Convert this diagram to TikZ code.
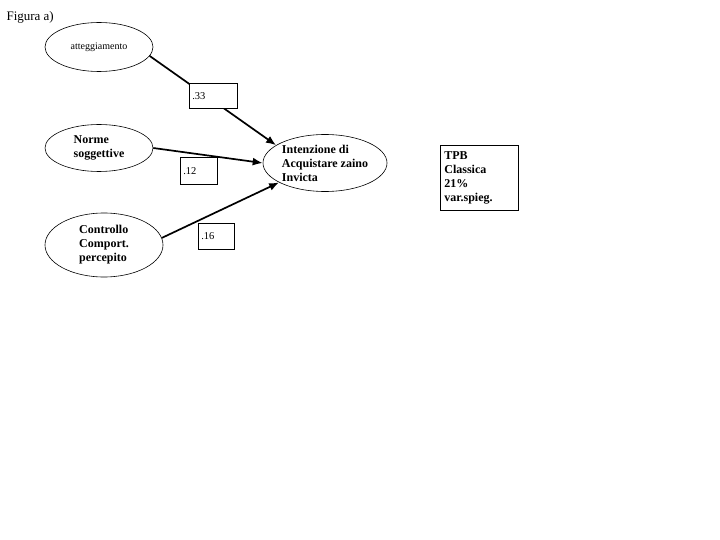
\documentclass[tikz,border=0pt]{standalone}
\usepackage{fontspec}
\setmainfont{Liberation Serif}
\usetikzlibrary{shapes.geometric, arrows.meta}
\tikzset{
  varnode/.style={ellipse, draw, line width=0.6pt, inner sep=0pt, align=left,
                  font=\fontsize{12}{14}\selectfont\bfseries},
  coeffbox/.style={draw, fill=white, line width=0.7pt, anchor=north west,
                   inner xsep=3pt, inner ysep=0pt, align=left,
                   font=\fontsize{10.5}{12}\selectfont},
  effect/.style={line width=1.7pt, -{Latex[length=10pt,width=8pt]}}
}
\begin{document}
\begin{tikzpicture}[x=1pt, y=-1pt]
    \useasboundingbox (0,0) rectangle (720,540);
    \node[anchor=west, font=\fontsize{13}{15}\selectfont] (fig) at (3,17) {Figura a)};
    % variabili
    \node[varnode, font=\fontsize{10}{12}\selectfont,
          minimum width=108, minimum height=49] (att) at (99,47) {atteggiamento};
    \node[varnode, minimum width=108, minimum height=47] (norme) at (99,148)
         {Norme\\soggettive};
    \node[varnode, minimum width=118, minimum height=64] (contr) at (104,245)
         {Controllo\\Comport.\\percepito};
    \node[varnode, minimum width=124, minimum height=57] (intenz) at (325,163)
         {Intenzione di\\Acquistare zaino\\Invicta};
    % effetti
    \draw[effect] (att.-10) -- (intenz.160);
    \draw[effect] (norme.east) -- (intenz.west);
    \draw[effect] (contr.7) -- (intenz.203);
    % coefficienti
    \node[coeffbox, text width=42, minimum height=25] (b33) at (189,83) {.33};
    \node[coeffbox, text width=31, minimum height=27] (b12) at (180,157) {.12};
    \node[coeffbox, text width=30, minimum height=26] (b16) at (198,223) {.16};
    \node[draw, line width=0.8pt, anchor=north west, inner xsep=4pt, inner ysep=2pt,
          text width=70, minimum height=65, align=left,
          font=\fontsize{12}{14}\selectfont\bfseries] (tpb) at (440,145)
         {TPB\\Classica\\21\%\\var.spieg.};
\end{tikzpicture}
\end{document}
